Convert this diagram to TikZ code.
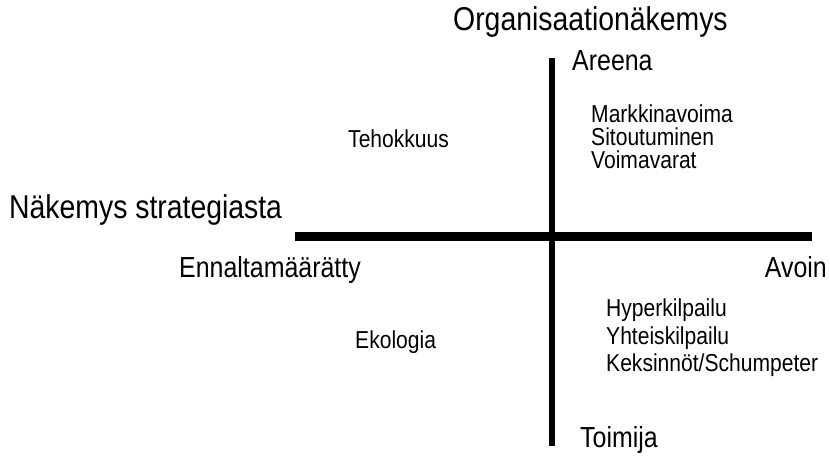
\documentclass[tikz,border=0pt]{standalone}
\usepackage{fontspec}
\setmainfont[FakeStretch=0.86]{Liberation Sans}
\usetikzlibrary{positioning}
\tikzset{haxis/.style={line width=9pt}}
\tikzset{vaxis/.style={line width=5.5pt}}
\tikzset{big/.style={inner sep=0pt,font=\fontsize{33}{36}\selectfont}}
\tikzset{mid/.style={inner sep=0pt,font=\fontsize{29}{32}\selectfont}}
\tikzset{small/.style={inner sep=0pt,align=left,font=\fontsize{24.5}{23}\selectfont}}
\tikzset{smallwide/.style={small,font=\fontsize{24.5}{27.5}\selectfont}}

\begin{document}
\begin{tikzpicture}[x=1pt,y=1pt]
    \useasboundingbox (0,0) rectangle (830,460);
    \begin{scope}
        % axes
        \coordinate (W) at (295,223);
        \coordinate (E) at (812,223);
        \coordinate (N) at (552,402);
        \coordinate (S) at (552,14);
        \draw [haxis] (W) -- (E);
        \draw [vaxis] (N) -- (S);

        % axis titles and ends
        \node (org) [big,anchor=base west] at (453,429) {Organisaationäkemys};
        \node (str) [big,anchor=base west] at (9,241) {Näkemys strategiasta};
        \node (are) [mid,anchor=base west] at (572,389) {Areena};
        \node (toi) [mid,anchor=base west] at (580,12) {Toimija};
        \node (enn) [mid,anchor=base west] at (179,182) {Ennaltamäärätty};
        \node (avo) [mid,anchor=base east] at (827,182) {Avoin};

        % quadrants (base = last line)
        \node (teh) [small,anchor=base west] at (348,312) {Tehokkuus};
        \node (mar) [small,anchor=base west] at (591,291) {Markkinavoima\\Sitoutuminen\\Voimavarat};
        \node (eko) [small,anchor=base west] at (355,111) {Ekologia};
        \node (hyp) [smallwide,anchor=base west] at (606,88) {Hyperkilpailu\\Yhteiskilpailu\\Keksinnöt/Schumpeter};
    \end{scope}
\end{tikzpicture}
\end{document}
